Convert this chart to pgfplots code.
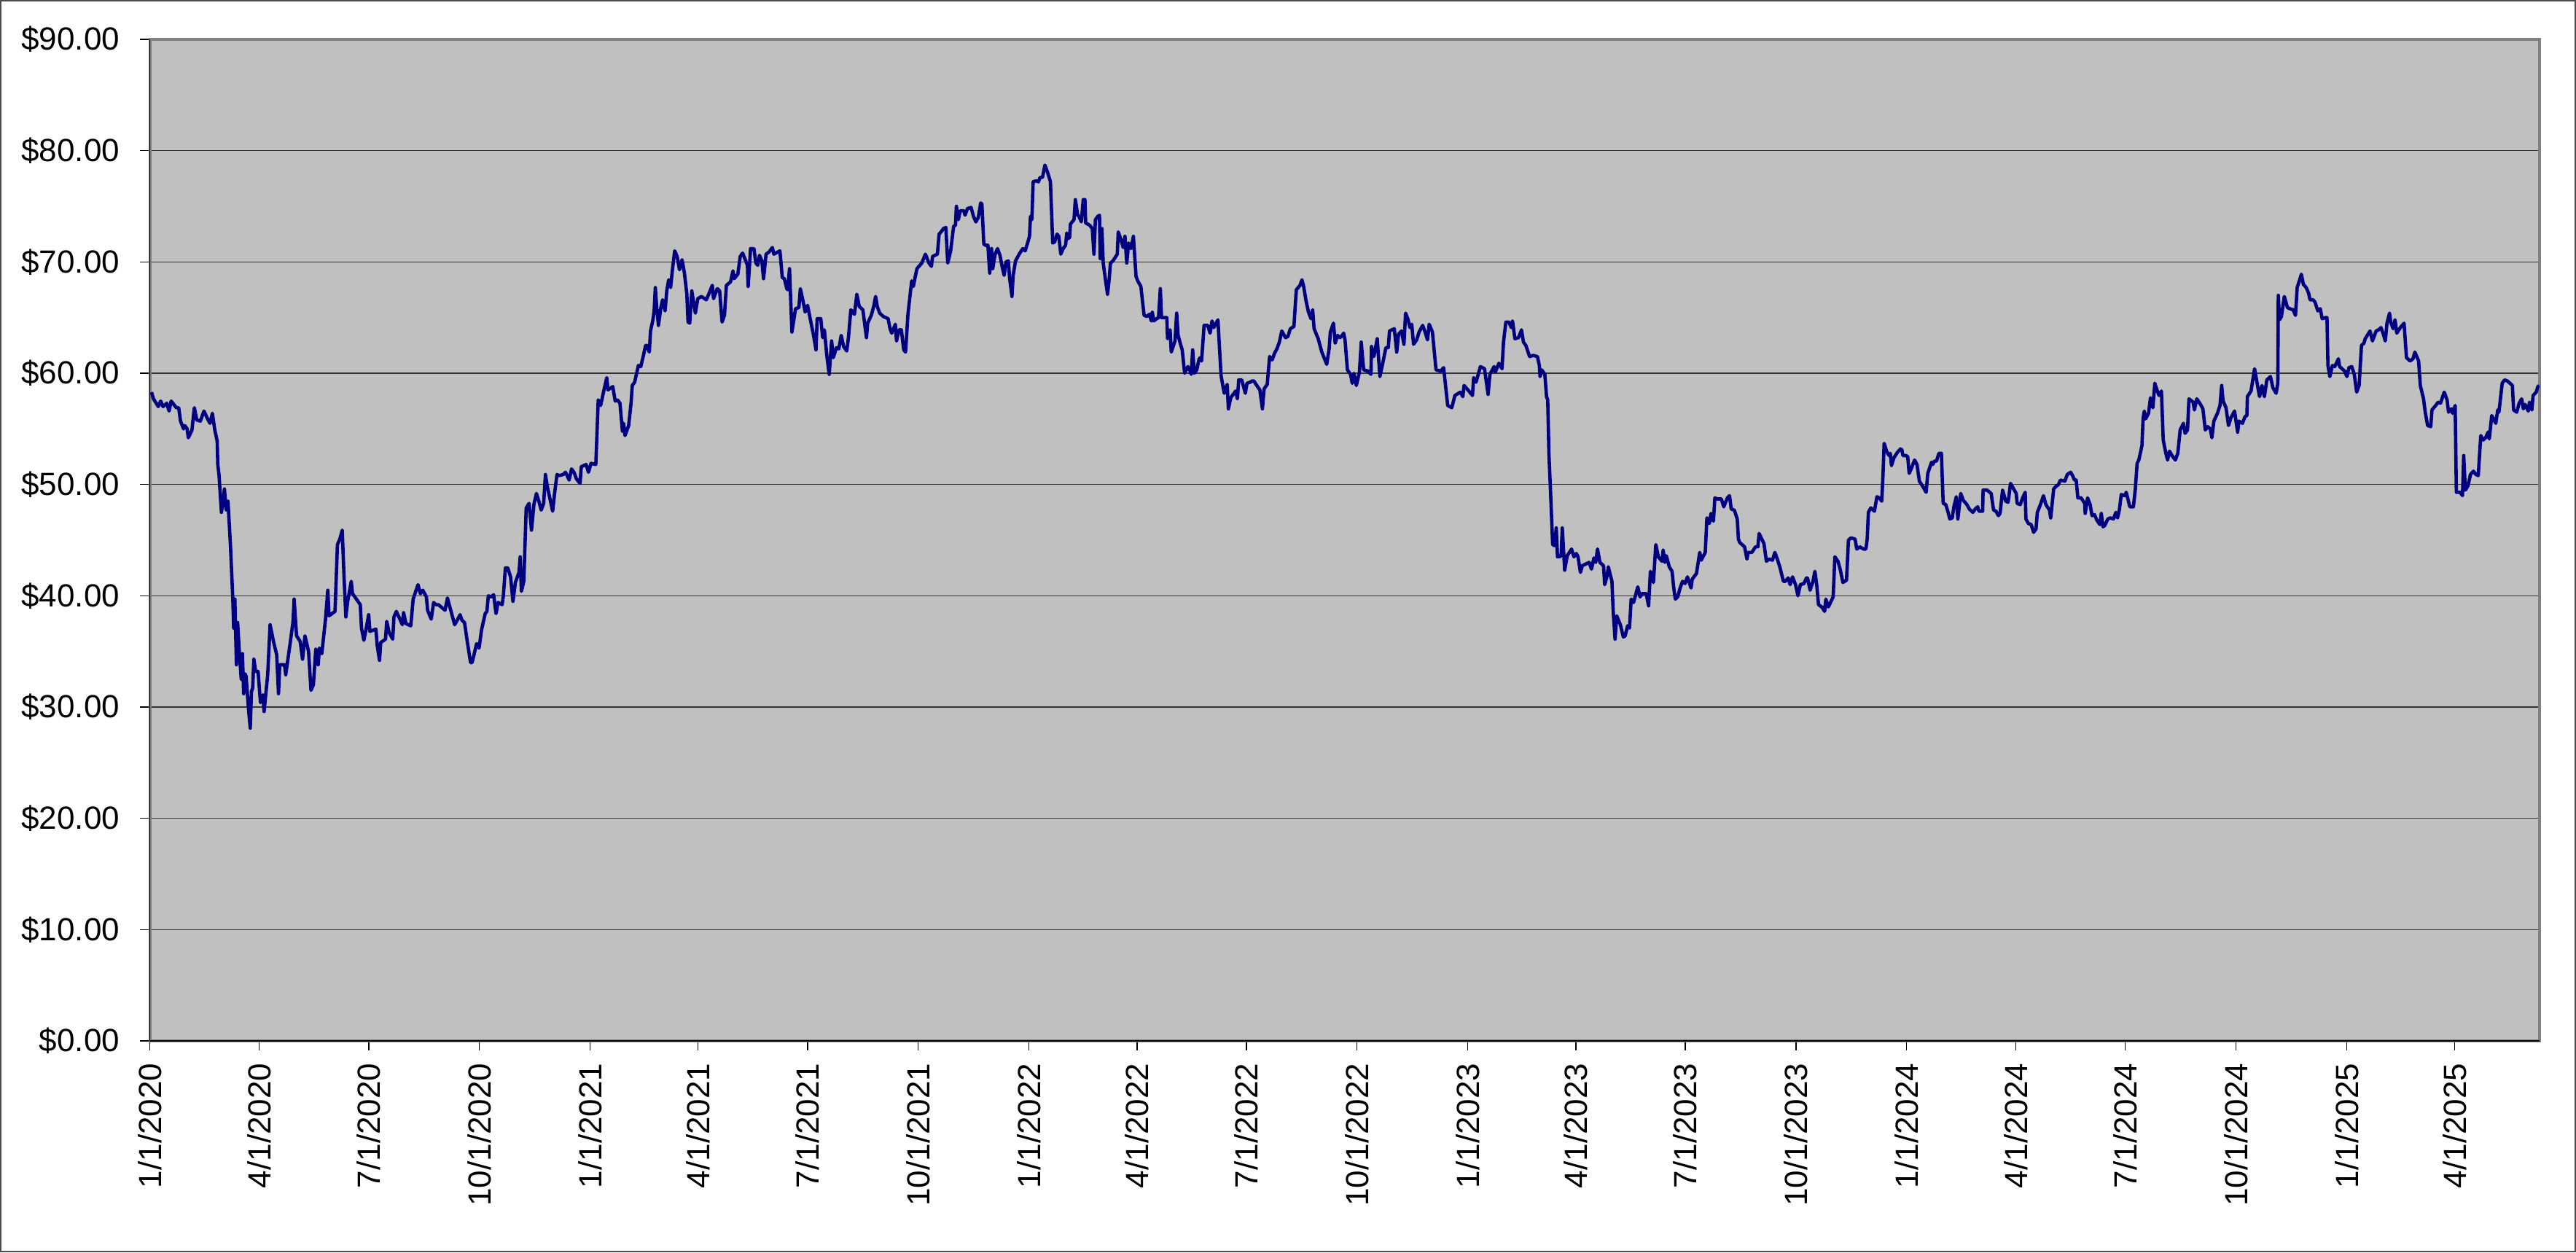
\documentclass[border=0pt]{standalone}
\usepackage{fontspec}
\setmainfont{Liberation Sans}
\usepackage{pgfplots}
\pgfplotsset{compat=1.18}
\definecolor{plotbg}{HTML}{C0C0C0}
\definecolor{navyline}{HTML}{000080}
\definecolor{framegray}{HTML}{808080}
\begin{document}
\fontsize{11}{13}\selectfont
\begin{tikzpicture}
\path[use as bounding box] (0,0) rectangle (883.5pt,429.5pt);
\draw[black!70, line width=0.4pt] (0.2pt,0.2pt) rectangle (883.3pt,429.3pt);
\begin{axis}[
  at={(51.4pt,72.5pt)}, anchor=south west,
  scale only axis, width=819.6pt, height=343.5pt,
  xmin=0, xmax=1987.5, ymin=0, ymax=90,
  axis background/.style={fill=plotbg},
  axis line style={draw=framegray, line width=1pt},
  xtick={0,91,182,274,366,456,547,639,731,821,912,1004,1096,1186,1277,1369,1461,1552,1643,1735,1827,1917},
  xticklabels={1/1/2020,4/1/2020,7/1/2020,10/1/2020,1/1/2021,4/1/2021,7/1/2021,10/1/2021,1/1/2022,4/1/2022,7/1/2022,10/1/2022,1/1/2023,4/1/2023,7/1/2023,10/1/2023,1/1/2024,4/1/2024,7/1/2024,10/1/2024,1/1/2025,4/1/2025},
  ytick={0,10,20,30,40,50,60,70,80,90},
  yticklabels={\$0.00,\$10.00,\$20.00,\$30.00,\$40.00,\$50.00,\$60.00,\$70.00,\$80.00,\$90.00},
  ymajorgrids, grid style={black!80, line width=0.35pt},
  tick align=outside, tick pos=left,
  major tick length=3.3pt,
  every tick/.style={black, line width=0.35pt},
  xticklabel style={rotate=90, anchor=east, inner sep=0pt},
  yticklabel style={anchor=east, inner sep=0pt},
  yticklabel shift=6.9pt,
  xticklabel shift=4.2pt,
  tick label style={font=\fontsize{11}{13}\selectfont},
  /pgf/number format/assume math mode=true,
  extra description/.code={\draw[black, line width=0.35pt] (0,1)--(0,0)--(1,0);},
]
\addplot[navyline, line width=1.15pt, mark=none, line join=round] table {
x y
1.4 58.3
3 57.7
7 57.0
9 57.5
11 57.0
14 57.3
16 56.6
17.7 57.5
22 56.9
24 56.9
25.5 55.7
28 55.0
29 55.3
31 55.0
32 54.2
35 54.9
37 56.9
39 55.8
42 55.7
45 56.6
48 55.9
50 55.5
52 56.4
54 54.9
56 53.9
56.5 51.8
57.5 50.9
59.5 47.5
61 48.5
62 49.6
63.5 47.7
65 48.5
67 44.6
69 39.7
69.7 37.1
70.7 39.7
72 33.8
73 37.6
74.5 34.8
76 32.5
77 34.8
78 31.2
79 33.0
80 32.8
82 29.9
83.5 28.1
84.5 31.4
85.5 31.7
86.5 34.3
88 33.2
90 33.2
92 30.4
94 31.1
95 29.6
98 32.9
100 37.4
103 35.8
105.5 34.7
107 31.2
108 33.8
112 33.8
113 32.9
116 35.2
119 37.6
120 39.7
122 36.4
125 35.9
127 34.3
129 36.4
132 35.0
134 31.5
136 32.0
138 35.2
140 33.8
141 35.3
143 34.8
146 37.8
148 40.5
149 38.2
154 38.6
156 44.6
158 45.1
160 45.9
161.5 41.7
163 38.1
164.5 39.5
167.5 41.3
168.5 40.2
170.5 39.9
175 39.2
176 37.1
178 36.0
180 37.1
182 38.3
183 36.8
188 37.0
189 35.6
191 34.2
192 35.8
196 36.1
197 37.7
199 36.7
202 36.1
203 38.1
205 38.6
210 37.4
211 38.5
213 37.5
217 37.3
219 39.7
223 41.0
225 40.2
227 40.5
230 39.9
231 38.7
234 37.9
236 39.4
238 39.2
240 39.2
245.5 38.7
247.5 39.8
250.5 38.6
253.5 37.4
255.6 37.8
258 38.3
259.6 37.8
261.7 37.6
263.7 36.1
266.7 34.0
268 34.0
271.8 35.7
273.8 35.3
275.8 36.9
278.9 38.4
280.3 38.6
281.5 40.0
283.9 39.9
285.9 40.1
287.9 38.4
289.6 39.4
293 39.2
294 40.0
295.7 42.5
297.7 42.5
300 41.7
302 39.5
304 41.2
307 42.1
308 43.5
309 40.4
311 41.3
313 47.9
315.4 48.3
317.4 45.9
319.4 48.2
321.5 49.2
323.5 48.5
325.5 47.7
327.5 48.3
329 50.9
330.6 49.8
332.6 48.8
335 47.6
336.6 49.2
338.6 50.9
340.6 50.8
343.7 50.9
345.7 51.1
348.7 50.4
350.7 51.4
352.7 51.1
354.8 50.5
357.8 50.1
358.8 51.6
362.8 51.8
364.8 51.1
366.9 51.9
370.9 51.8
372.9 57.6
374.9 57.1
377.9 58.6
380 59.6
381 58.5
385 58.8
387 57.5
389 57.6
391 57.3
393 54.8
394 55.5
395.2 54.4
398.2 55.3
400.2 57.3
401.2 58.9
403.2 59.2
406.3 60.7
408.3 60.6
410.3 61.5
412.3 62.5
413.4 62.5
415.4 61.9
416.4 63.8
418.4 64.8
419.4 65.6
420.4 67.7
421.4 66.1
423 64.3
425 65.9
426.4 66.6
428.5 65.6
429.9 67.4
431.5 68.4
433.1 67.7
434.5 69.2
436.5 71.0
438.5 70.5
440.5 69.3
442.6 70.2
444.6 69.0
446.6 67.1
447.6 64.6
449 64.5
450.7 67.4
453.7 65.4
455.7 66.7
458.7 66.9
462.8 66.6
464.8 67.1
467.8 67.9
468.8 66.7
471.9 67.6
473.9 67.4
475.9 64.6
477.9 65.2
479.5 67.9
482.9 68.2
485 69.2
486 68.5
489 68.9
491 70.5
493 70.8
497 69.7
497.6 67.8
499.6 71.2
502.4 71.2
504 69.9
505.6 69.7
507 70.6
509 70.1
510.4 68.5
512.5 70.7
515 70.9
517.7 71.3
519 70.7
524 71.0
526 68.6
527.7 68.5
529.7 67.6
530.5 67.5
532 69.4
534 63.7
537 65.8
539.8 65.9
541 67.6
543 66.6
545 65.5
547 66.1
549 65.0
552 63.4
554 62.1
555 64.9
558 64.9
559.6 63.2
561 63.9
563 61.6
565 59.9
567 62.9
568.4 61.4
571 62.3
573 62.2
575 63.4
577 62.4
579.6 62.0
581 63.2
583 65.7
586 65.3
588 67.1
590 66.0
593 65.7
596 63.2
597 64.5
600 65.2
602 66.0
603.6 66.9
605 66.0
607 65.4
610 65.1
614 64.9
615.6 64.0
617 63.6
620 64.4
621 62.9
623 63.9
625 63.9
627 62.1
628.5 61.9
630.5 65.3
633.6 68.3
635 67.8
636.4 68.6
638 69.4
642 69.9
645 70.7
648 69.9
650 69.6
651 70.5
655 70.7
656.4 72.5
658 72.7
660 73.0
662 73.1
663.6 69.9
666 71.0
668.5 73.2
670 73.3
670.8 75.0
672.4 73.8
674 74.6
677 74.6
678 74.2
680 74.8
683 74.9
685 74.1
687 73.6
689 74.0
691 75.3
692 75.2
693.6 71.6
695 71.5
697 71.5
698.5 69.0
700 71.2
701 69.4
703 70.7
705 71.2
707 70.6
709 69.5
710.5 68.8
712 70.0
714 70.1
715 68.6
717 66.9
718 68.8
720 70.1
723 70.7
726 71.2
728 71.0
730 71.7
731.6 72.3
732.4 74.1
733.6 73.8
734.6 77.2
737 77.3
739 77.2
740.4 77.6
742.4 77.6
744.4 78.7
746.5 78.1
749 77.2
750.9 71.7
752.5 71.8
754.5 72.5
756 72.3
757.6 70.7
759.6 71.2
761.6 71.5
762.6 72.6
763.6 72.1
765 72.2
765.6 73.4
768.6 73.8
769.7 75.6
770.7 74.9
771.7 74.2
772.7 74.1
774.7 73.6
776.3 75.6
777.7 75.6
778.3 73.5
781.7 73.3
783.8 73.0
785.2 70.7
786.4 73.8
788.4 74.1
789.8 74.2
790.4 70.3
791.8 73.0
792.9 69.9
794.9 68.3
796.5 67.1
797.9 68.5
798.9 69.9
801 70.1
804.6 70.7
805.4 72.7
808 71.9
809.5 71.3
811 72.3
812.5 69.9
814 71.7
816 71.2
818 72.3
820.2 68.7
821.6 68.3
824.2 67.8
826.9 65.2
829.3 65.1
831.3 65.3
832.9 64.7
833.7 65.5
834.9 64.7
837.3 64.9
838.9 65.0
840.4 67.6
841.4 65.0
843 65.0
845.8 65.0
846.4 63.1
848.5 63.9
849.5 61.9
852.6 62.9
854 65.4
855.2 63.4
857.2 62.6
858.6 62.1
860.6 60.0
863.3 60.6
864.7 60.3
866.1 59.9
867.3 62.1
868.7 60.0
870.7 60.3
872.7 61.3
873.7 61.4
874.7 61.1
876.8 64.3
879.8 64.3
881.8 63.6
883.4 64.7
884.8 64.1
888.3 64.8
890.9 59.8
893.5 58.2
896 59.0
897 56.8
899 57.8
903 58.4
904.5 57.7
905.6 59.4
908.1 59.4
911.1 58.2
912.5 59.1
915.2 59.2
916.6 59.3
918.2 59.3
921.2 58.8
923.2 58.5
925.3 56.8
926.7 58.6
929.3 59.0
931.3 61.5
933.4 61.2
935.4 61.8
937.4 62.2
939.4 62.8
941.4 63.8
944.5 63.2
946.5 63.3
948.5 64.0
951.5 64.2
953.5 67.5
956.6 67.9
958.2 68.4
959.6 67.8
961.6 66.5
963.6 65.5
965.7 64.9
967.1 65.7
968.3 64.0
971.7 63.1
974.7 61.9
978.8 60.8
980.8 62.2
981.8 63.7
984.4 64.5
985.8 62.7
987.8 63.4
989.8 63.2
990.9 63.3
992.9 63.6
994 63.0
996 60.3
998.6 59.9
1000 59.1
1001.4 60.0
1003.4 58.9
1006 60.1
1007.5 62.8
1009.5 60.3
1013 60.2
1015.6 59.9
1016 62.4
1018 61.5
1020.8 63.1
1023 59.7
1025 60.7
1028 62.3
1030 62.3
1031 63.8
1035 64.0
1037 61.9
1038.5 63.5
1041 63.8
1043 62.6
1044.4 65.4
1046.5 64.8
1048 64.1
1049.5 64.4
1051 62.6
1053.6 63.0
1055.6 63.7
1058.6 64.3
1060.6 63.7
1062.6 63.0
1064 64.4
1066.7 63.7
1069.7 60.3
1073.8 60.2
1076 60.5
1079.4 57.1
1082.8 56.9
1085.4 58.0
1089.9 58.3
1092 57.9
1093 58.9
1097 58.4
1100 58.0
1101 59.6
1103 59.2
1106.6 60.6
1110 60.4
1113 58.1
1114.5 59.9
1118 60.6
1119 60.1
1122 60.9
1124.6 60.4
1125.8 62.8
1127.8 64.6
1130.3 64.6
1132.3 64.1
1133.3 64.7
1135.3 63.1
1138.3 63.2
1140.8 63.9
1142.4 62.8
1144.4 62.5
1147.5 61.5
1150.5 61.6
1154 61.5
1155.6 60.7
1156.2 59.7
1157.6 60.3
1160.2 59.9
1161.6 57.9
1162.6 57.6
1163.6 52.7
1165 49.2
1166.7 44.6
1168.3 44.5
1169.7 46.1
1170.7 43.5
1172.3 43.5
1173.7 43.6
1174.7 46.1
1176.7 42.3
1178.8 43.6
1182.4 44.2
1184.4 43.5
1186.4 43.8
1187.8 43.5
1189.8 42.1
1191.3 42.7
1197 43.0
1199 42.4
1201 43.4
1202.5 43.0
1204 44.2
1206 43.0
1209 42.7
1210 41.0
1212 41.8
1213 42.6
1216 41.3
1217 38.7
1218.6 36.1
1220 38.2
1223 37.4
1225.5 36.3
1227 36.4
1229 37.3
1230.6 37.1
1232 39.7
1234 39.4
1237.5 40.8
1239.4 39.9
1241 40.2
1244.5 40.2
1246.5 39.1
1248 42.2
1250.5 41.2
1252.5 44.6
1254.6 43.5
1257.6 43.1
1258.6 44.1
1260 43.0
1261.2 43.6
1263.7 42.6
1266 42.2
1267.3 40.8
1268.7 39.7
1270.7 39.9
1272.7 40.7
1274.7 41.3
1276.8 41.1
1278.8 41.7
1281.8 40.7
1282.8 41.5
1286.3 42.0
1289 43.9
1290.3 43.2
1293.6 43.9
1295 47.0
1297 46.5
1298.4 47.4
1300.4 46.7
1301.6 48.8
1303.7 48.7
1307 48.7
1309 48.0
1312 48.8
1313.8 49.0
1315.2 47.8
1317.8 47.7
1320.2 46.9
1321.2 45.1
1322.2 44.8
1326.3 44.4
1328.3 43.3
1329.3 43.9
1332.4 43.9
1335.4 44.4
1337.4 44.4
1338.4 45.6
1342.4 44.7
1344.5 43.1
1346.5 43.3
1349.5 43.2
1351.5 43.9
1353.5 43.3
1355.6 42.6
1358.6 41.3
1360.2 41.3
1362.6 41.6
1364.2 41.0
1366.2 41.7
1368.7 41.0
1370.7 40.0
1372.7 41.0
1375.7 41.1
1377.7 41.6
1378.7 41.6
1380.8 40.5
1383.2 41.3
1384.8 42.2
1386.4 40.9
1387.8 39.2
1390.5 39.0
1392.9 38.6
1393.9 39.7
1396 39.0
1400 39.9
1401.4 43.5
1404 43.1
1406 42.3
1408.1 41.2
1411.1 41.4
1412.7 45.0
1414.7 45.2
1418.2 45.1
1419.6 44.2
1422.2 44.4
1425.2 44.2
1427.2 44.2
1428.3 45.1
1429.3 47.5
1431.3 47.9
1434.3 47.6
1436.4 48.9
1438.4 48.8
1440.4 48.5
1441.4 50.8
1442.4 53.7
1444.4 53.0
1446.5 52.6
1447.5 52.8
1448.5 51.7
1450.5 52.4
1453.5 52.9
1456 53.2
1457.2 53.1
1458 52.6
1460.6 52.6
1462 52.5
1463.2 51.0
1465.2 51.5
1467.7 52.2
1469.7 51.8
1471.7 50.3
1474.7 49.8
1477.3 49.3
1478.7 51.0
1481.8 52.0
1482.8 51.8
1484.2 52.1
1485.9 52.1
1487.9 52.8
1490 52.8
1491.5 48.3
1493.6 48.2
1495.6 47.5
1497 46.9
1499 47.0
1500.4 48.0
1502.4 48.9
1503.7 46.9
1506.1 49.2
1508.1 48.6
1511.2 48.2
1513.2 47.8
1516.2 47.5
1518.2 47.8
1520.2 48.0
1521.2 47.6
1524.3 47.6
1524.7 49.5
1527.9 49.5
1531.4 49.2
1533.4 47.7
1535.4 47.6
1537.4 47.2
1538.8 47.4
1540.9 49.5
1543.5 48.5
1545.5 48.4
1547.5 50.1
1549.6 49.7
1552.2 49.2
1553 48.3
1555.6 48.2
1557.6 48.8
1559.7 49.3
1560.3 46.9
1562.3 46.5
1564.7 46.4
1566.7 45.7
1568.7 46.0
1569.8 47.5
1572.4 48.2
1574.9 49.0
1576.9 48.2
1579.9 47.7
1580.9 47.0
1583.4 49.6
1585 49.8
1587.4 50.0
1589 50.4
1592.7 50.3
1594.7 50.9
1597.5 51.1
1599.1 50.8
1600.7 50.4
1602.1 50.4
1603.5 48.8
1606.2 48.8
1609.2 48.3
1609.6 47.4
1611.6 48.8
1613.7 48.2
1615.3 47.2
1617.3 47.3
1619.3 46.8
1621.8 46.4
1623 47.4
1624.4 46.2
1625.8 46.3
1628.4 46.9
1630.4 47.0
1633.1 46.9
1635.1 47.5
1636.5 47.0
1638 47.7
1639.6 49.1
1642.6 49.0
1643.7 49.3
1646.7 48.0
1649.7 48.0
1651.3 49.6
1652.8 51.9
1654.2 52.2
1656.8 53.5
1657.8 56.0
1658.8 56.6
1659.8 55.9
1662.3 56.4
1663.9 57.8
1665.9 56.9
1667.5 59.1
1669.6 58.4
1671 58.0
1673 58.4
1674.5 54.0
1676.5 52.9
1678.1 52.2
1679.7 53.0
1681.8 52.6
1684.6 52.2
1686.6 52.8
1688.6 54.9
1691.3 55.5
1692.7 54.6
1694.7 54.9
1695.9 57.7
1699.4 57.4
1700.4 56.7
1702.4 57.7
1705.5 57.2
1707.5 56.8
1709.5 54.9
1711.5 55.2
1713.6 55.0
1715 54.2
1716.6 55.7
1719.6 56.4
1721.7 57.1
1723.1 58.9
1724.3 57.5
1726.7 56.9
1728.8 55.3
1730.8 56.0
1733.8 56.6
1736.4 54.7
1737.4 55.7
1740.4 55.5
1742.5 56.1
1744.1 56.2
1744.5 57.9
1747.5 58.4
1749 59.4
1750.5 60.4
1752.6 59.1
1754.6 57.9
1756.6 58.9
1758.6 57.9
1760.7 59.4
1763.7 59.7
1765.7 58.7
1768.4 58.2
1769.8 59.1
1770.2 67.0
1771.2 64.8
1772.8 65.1
1775.2 66.9
1777.8 65.9
1779.8 65.8
1782.5 65.7
1784.5 65.2
1785.9 67.7
1788 68.4
1789.4 68.9
1791 68.0
1793.4 67.7
1795.4 67.2
1796.6 66.6
1799.1 66.6
1800.7 66.4
1803.1 65.6
1805.1 65.8
1806.7 64.9
1809.5 65.0
1810.7 65.0
1811.5 60.7
1813.1 59.7
1815.2 60.7
1817.2 60.6
1820.2 61.3
1821.2 60.6
1825.3 60.2
1827.3 59.7
1828.9 60.5
1831.3 60.6
1833.4 59.9
1835.4 58.3
1837.4 58.9
1839.4 62.5
1841.4 62.7
1842.5 63.1
1846.5 63.8
1848.5 62.9
1851.6 63.8
1853.6 63.9
1855.6 64.1
1857.6 63.5
1859.2 62.9
1860.6 64.5
1862.7 65.4
1863.7 64.6
1865.7 64.0
1867.3 64.8
1868.7 63.6
1871.7 64.1
1874.8 64.5
1876.8 61.4
1879.8 61.1
1882.2 61.3
1883.8 61.9
1886.9 61.1
1888.3 58.9
1891 57.7
1892.4 56.5
1894.4 55.3
1897 55.2
1898 56.7
1901.1 57.1
1903.1 57.4
1905.1 57.3
1908.2 58.3
1910.6 57.6
1911.8 56.5
1914.2 56.8
1915.2 56.4
1917.3 57.1
1918.3 49.3
1921.3 49.3
1923.4 49.0
1924.4 52.6
1925.8 49.5
1928 49.9
1930 50.9
1932.5 51.2
1934.5 50.9
1936.5 50.8
1938.6 54.4
1940.6 54.0
1942.6 54.2
1944.6 54.7
1945.7 54.1
1947.7 56.2
1951.1 55.5
1952.7 56.7
1953.7 56.5
1956.4 59.1
1958.4 59.4
1960.8 59.3
1964.9 58.9
1965.9 56.7
1968.5 56.5
1970.5 57.3
1972.6 57.7
1974 56.8
1975.4 57.2
1978.1 56.6
1979.1 57.4
1981.1 56.7
1982.1 58.0
1984.7 58.3
1986.1 58.8
1987.1 58.9
};
\end{axis}
\end{tikzpicture}
\end{document}
